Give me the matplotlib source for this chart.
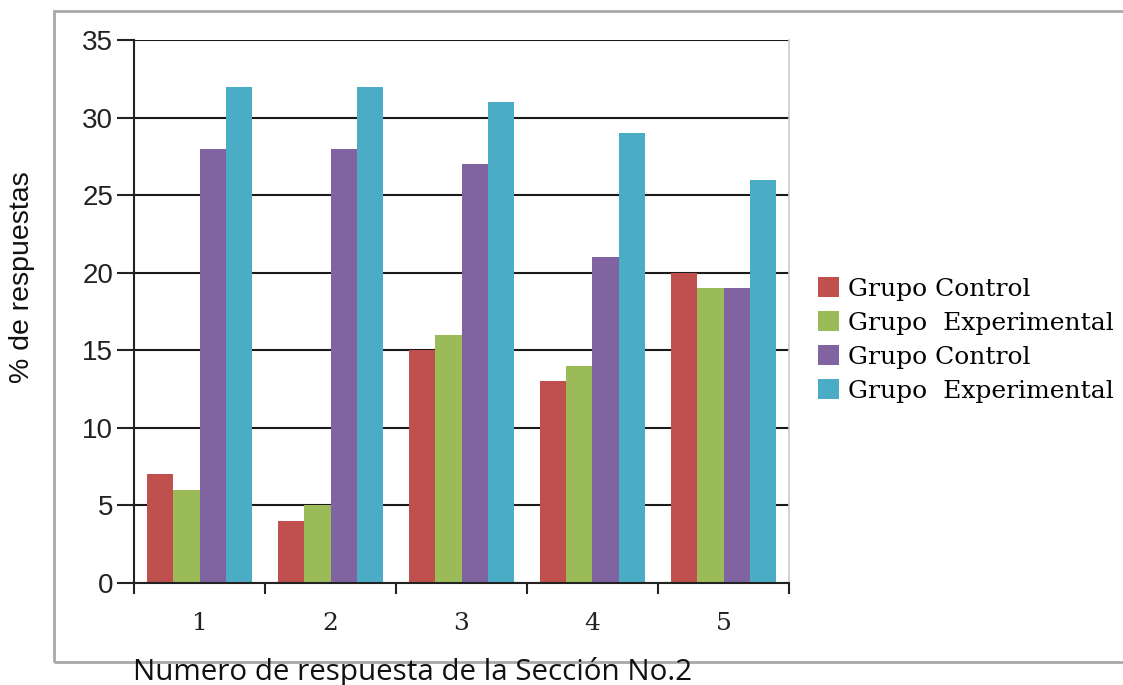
import matplotlib
matplotlib.use("Agg")
import matplotlib.pyplot as plt
from matplotlib.patches import Rectangle, Patch
import numpy as np

# data
categories = ["1", "2", "3", "4", "5"]
series_labels = ["Grupo Control", "Grupo  Experimental", "Grupo Control", "Grupo  Experimental"]
control_a = [7, 4, 15, 13, 20]
experimental_a = [6, 5, 16, 14, 19]
control_b = [28, 28, 27, 21, 19]
experimental_b = [32, 32, 31, 29, 26]
y_ticks = [0, 5, 10, 15, 20, 25, 30, 35]

colors = ["#C0504D", "#9BBB59", "#8064A2", "#4BACC6"]
series = [control_a, experimental_a, control_b, experimental_b]

W, H = 1123, 685
fig = plt.figure(figsize=(W / 100, H / 100), dpi=100)

# grey outer frame of the pasted chart
fig.patches.append(Rectangle((54 / W, 1 - 662 / H), 1.2, (662 - 11) / H,
                             transform=fig.transFigure, fill=False,
                             edgecolor="#a8a8a8", linewidth=2, zorder=0))

ax = fig.add_axes([134 / W, 1 - 583 / H, (789 - 134) / W, (583 - 40) / H])

x = np.arange(1, len(categories) + 1)
width = 0.2
for i, (vals, col) in enumerate(zip(series, colors)):
    ax.bar(x + (i - 1.5) * width, vals, width, color=col, linewidth=0, zorder=2)

ax.set_xlim(0.5, len(categories) + 0.5)
ax.set_ylim(0, 35)
ax.set_yticks(y_ticks)
ax.yaxis.grid(True, color="#1a1a1a", linewidth=1.5, zorder=0)
ax.set_axisbelow(True)

ax.set_xticks(x)
ax.set_xticklabels(categories, family="DejaVu Serif", fontsize=18, color="#222222")
ax.set_xticks(np.arange(0.5, len(categories) + 1, 1), minor=True)
ax.tick_params(axis="x", which="major", length=0, pad=21)
ax.tick_params(axis="x", which="minor", length=8, width=1.5, color="#222222", direction="out")
ax.tick_params(axis="y", length=12, width=1.5, color="#222222", direction="out", pad=3,
               labelsize=20, labelcolor="#222222")
for lbl in ax.get_yticklabels():
    lbl.set_family("Liberation Sans")

ax.spines["top"].set_visible(False)
ax.spines["right"].set_color("#cccccc")
ax.spines["right"].set_linewidth(1.2)
ax.spines["left"].set_color("#222222")
ax.spines["left"].set_linewidth(1.5)
ax.spines["bottom"].set_color("#222222")
ax.spines["bottom"].set_linewidth(1.5)

fig.text(22 / W, 1 - 277 / H, "% de respuestas", rotation=90, ha="center", va="center",
         family="Liberation Sans", fontsize=20.5, color="#111111")
fig.text(133 / W, 1 - 672 / H, "Numero de respuesta de la Sección No.2", ha="left", va="center",
         family="Open Sans", fontsize=21.3, color="#111111")

handles = [Patch(facecolor=c, edgecolor="none") for c in colors]
fig.legend(handles, series_labels, loc="center left", bbox_to_anchor=(818 / W, 1 - 340 / H),
           frameon=False, prop={"family": "DejaVu Serif", "size": 18},
           handlelength=0.83, handleheight=0.83, handletextpad=0.35, labelspacing=0.42,
           borderaxespad=0, borderpad=0)

fig.savefig("out.png", dpi=100)
